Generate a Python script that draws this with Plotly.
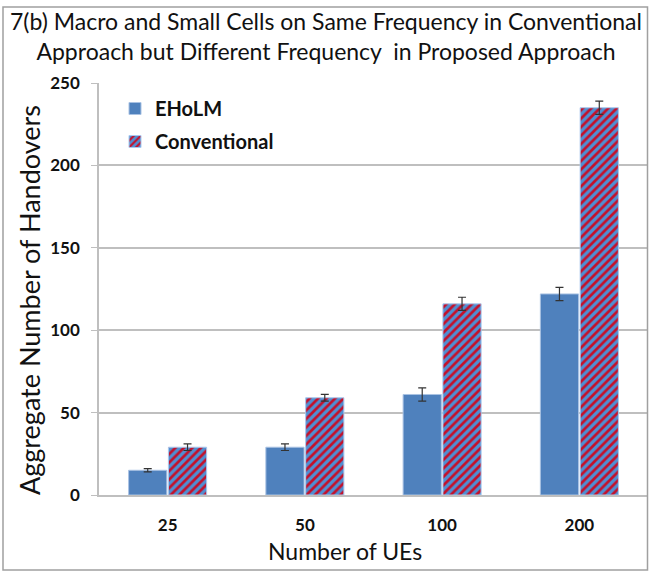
import plotly.graph_objects as go

categories = ["25", "50", "100", "200"]
eholm = [15, 29, 61, 122]
eholm_err = [1, 2, 4, 4]
conventional = [29, 59, 116, 235]
conventional_err = [2, 2, 4, 4]
y_ticks = [0, 50, 100, 150, 200, 250]

W, H = 649, 572
L, R, T, B = 99, 1, 83, 77
pw = W - L - R
ph = H - T - B

def px(x):
    return (x - L) / pw

def py(y):
    return (H - B - y) / ph

fig = go.Figure()
fig.add_trace(go.Bar(
    name="EHoLM", x=categories, y=eholm, legendgroup="a",
    marker=dict(color="#4F81BD", line=dict(color="#A9C2E3", width=1)),
    error_y=dict(type="data", array=eholm_err, color="#333333", thickness=1.2, width=4),
))
fig.add_trace(go.Bar(
    name="Conventional", x=categories, y=conventional, legendgroup="b",
    marker=dict(color="#C8102E", line=dict(color="#A9C8EE", width=1),
                pattern=dict(shape="/", fgcolor="#C4102A", bgcolor="#4F8FD3",
                             size=6, solidity=0.45, fillmode="replace")),
    error_y=dict(type="data", array=conventional_err, color="#333333", thickness=1.2, width=4),
))

font_family = "Lato, Liberation Sans, sans-serif"

fig.update_layout(
    width=W, height=H,
    margin=dict(l=L, r=R, t=T, b=B, autoexpand=False),
    paper_bgcolor="white", plot_bgcolor="white",
    barmode="group", bargap=0.42, bargroupgap=0.04,
    showlegend=True,
    legend=dict(x=px(115), y=py(89), xanchor="left", yanchor="top",
                font=dict(family=font_family, size=20, color="#111111", weight="bold"),
                bgcolor="rgba(0,0,0,0)", tracegroupgap=4, itemwidth=30),
    xaxis=dict(showgrid=False, showline=True, linecolor="#BFBFBF", linewidth=2,
               ticks="", tickfont=dict(family=font_family, size=17, color="#111111", weight="bold"),
               ticklabelstandoff=14),
    yaxis=dict(range=[0, 250], tickvals=y_ticks, showgrid=True, gridcolor="#BFBFBF", gridwidth=1.5,
               showline=True, linecolor="#BFBFBF", linewidth=1.5, ticks="outside", ticklen=6,
               tickcolor="#BFBFBF", zeroline=False,
               tickfont=dict(family=font_family, size=17, color="#111111", weight="bold"),
               ticklabelstandoff=8),
    font=dict(family=font_family),
    shapes=[dict(type="rect", xref="paper", yref="paper",
                 x0=px(3), x1=px(647.5), y0=py(570), y1=py(7),
                 line=dict(color="#A0A0A0", width=1.5))],
    annotations=[
        dict(text="7(b) Macro and Small Cells on Same Frequency in Conventional<br>Approach but Different Frequency  in Proposed Approach",
             xref="paper", yref="paper", x=px(326), y=py(36), xanchor="center", yanchor="middle",
             showarrow=False, align="center",
             font=dict(family=font_family, size=23, color="#111111")),
        dict(text="Aggregate Number of Handovers", xref="paper", yref="paper",
             x=px(29), y=py(300), xanchor="center", yanchor="middle", textangle=-90,
             showarrow=False, font=dict(family=font_family, size=27, color="#111111")),
        dict(text="Number of UEs", xref="paper", yref="paper",
             x=px(345), y=py(551), xanchor="center", yanchor="middle",
             showarrow=False, font=dict(family=font_family, size=23, color="#111111")),
    ],
)

fig.write_html("out.html", config={"displayModeBar": False},
               post_script="document.body.style.margin='0';document.body.style.padding='0';document.body.style.overflow='hidden';")
